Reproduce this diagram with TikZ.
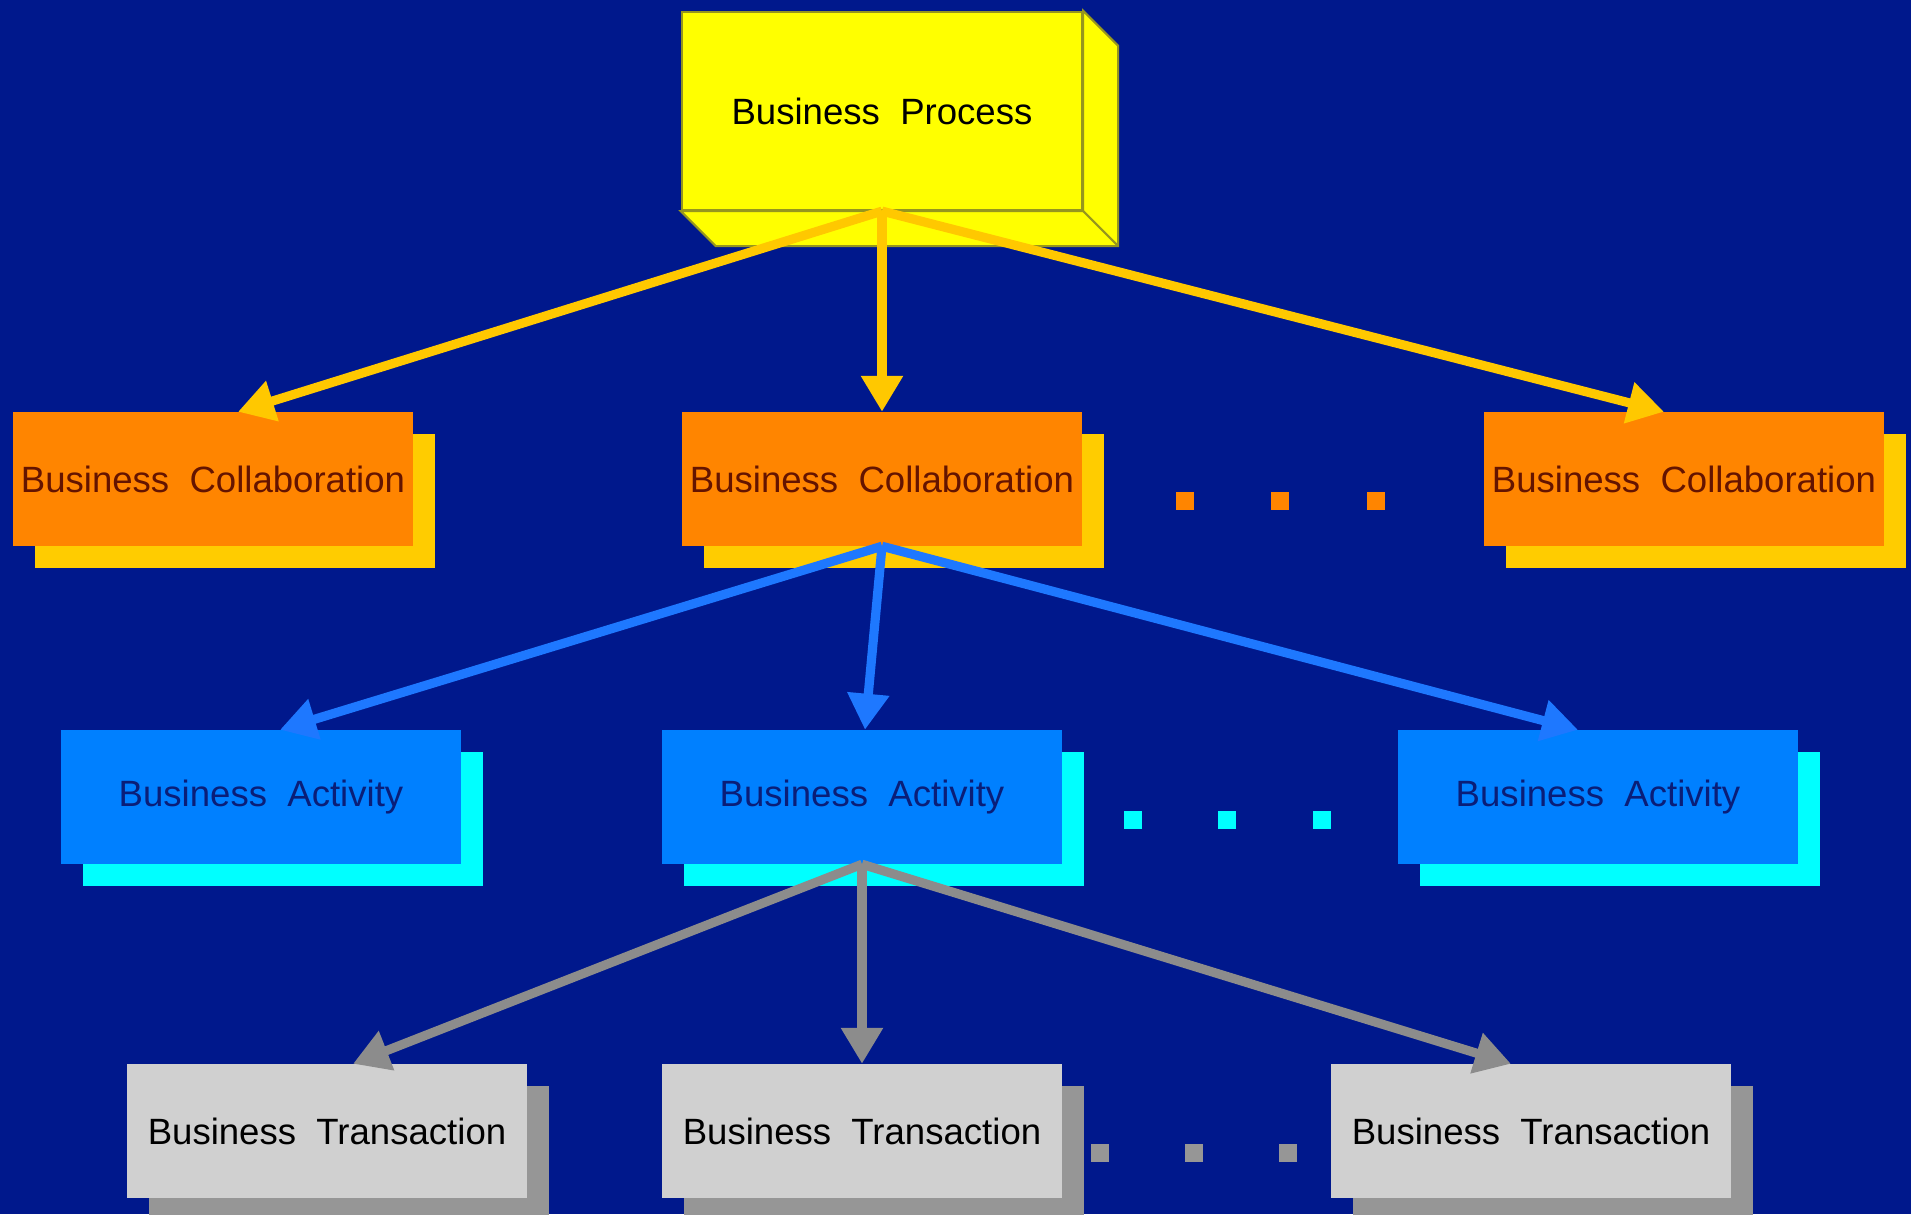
\documentclass[tikz,border=0pt]{standalone}
\usepackage{fontspec}
\setmainfont{Liberation Sans}
\usetikzlibrary{arrows.meta,shadows}

\definecolor{bgblue}{RGB}{0,24,140}
\definecolor{procyellow}{RGB}{255,255,0}
\definecolor{procedge}{RGB}{150,150,30}
\definecolor{collorange}{RGB}{255,133,0}
\definecolor{collshadow}{RGB}{255,204,0}
\definecolor{colltext}{RGB}{100,20,0}
\definecolor{actblue}{RGB}{0,128,255}
\definecolor{actshadow}{RGB}{0,255,255}
\definecolor{acttext}{RGB}{10,30,120}
\definecolor{transgray}{RGB}{208,208,208}
\definecolor{transshadow}{RGB}{150,150,150}
\definecolor{arrowyellow}{RGB}{255,200,0}
\definecolor{arrowblue}{RGB}{30,120,255}
\definecolor{arrowgray}{RGB}{140,140,140}

\tikzset{
  box/.style={minimum width=4cm, minimum height=1.33cm, inner sep=0pt,
    font=\fontsize{10.4}{12}\selectfont},
  collab/.style={box, fill=collorange, text=colltext,
    general shadow={fill=collshadow, shadow xshift=0.22cm, shadow yshift=-0.22cm}},
  activity/.style={box, fill=actblue, text=acttext,
    general shadow={fill=actshadow, shadow xshift=0.22cm, shadow yshift=-0.22cm}},
  transaction/.style={box, fill=transgray, text=black,
    general shadow={fill=transshadow, shadow xshift=0.22cm, shadow yshift=-0.22cm}},
  link/.style={line width=2.6pt, -{Triangle[width=0.4cm,length=0.36cm]}},
  dot/.style={minimum size=0.18cm, inner sep=0pt},
}

\begin{document}
\begin{tikzpicture}[x=0.01cm, y=-0.01cm]

\fill[bgblue] (0,0) rectangle (1911,1214);
\useasboundingbox (0,0) rectangle (1911,1214);

% Business process (box with depth)
\node[box, minimum height=1.98cm, fill=procyellow, draw=procedge, line width=0.6pt] (proc) at (882,111) {Business~~Process};
\filldraw[fill=procyellow, draw=procedge, line width=0.6pt]
  (proc.north east) -- ++(35,35) |- ([shift={(35,35)}]proc.south west)
  -- (proc.south west) -- (proc.south east) -- cycle;
\draw[procedge, line width=0.6pt] (proc.south east) -- ++(35,35);

% Collaborations
\node[collab] (coll1) at (213,479) {Business~~Collaboration};
\node[collab] (coll2) at (882,479) {Business~~Collaboration};
\node[collab] (coll3) at (1684,479) {Business~~Collaboration};

\node[dot, fill=collorange] (cdot1) at (1185,501) {};
\node[dot, fill=collorange] (cdot2) at (1280,501) {};
\node[dot, fill=collorange] (cdot3) at (1376,501) {};

% Activities
\node[activity] (act1) at (261,797) {Business~~Activity};
\node[activity] (act2) at (862,797) {Business~~Activity};
\node[activity] (act3) at (1598,797) {Business~~Activity};

\node[dot, fill=actshadow] (adot1) at (1133,820) {};
\node[dot, fill=actshadow] (adot2) at (1227,820) {};
\node[dot, fill=actshadow] (adot3) at (1322,820) {};

% Transactions
\node[transaction] (tran1) at (327,1131) {Business~~Transaction};
\node[transaction] (tran2) at (862,1131) {Business~~Transaction};
\node[transaction] (tran3) at (1531,1131) {Business~~Transaction};

\node[dot, fill=transshadow] (tdot1) at (1100,1153) {};
\node[dot, fill=transshadow] (tdot2) at (1194,1153) {};
\node[dot, fill=transshadow] (tdot3) at (1288,1153) {};

% -------- arrows -----------
\draw[link, arrowyellow] (proc.south) -- ([xshift=0.25cm]coll1.north);
\draw[link, arrowyellow] (proc.south) -- (coll2.north);
\draw[link, arrowyellow] (proc.south) -- ([xshift=-0.2cm]coll3.north);

\draw[link, arrowblue] (coll2.south) -- ([xshift=0.19cm]act1.north);
\draw[link, arrowblue] (coll2.south) -- ([xshift=0.03cm]act2.north);
\draw[link, arrowblue] (coll2.south) -- ([xshift=-0.2cm]act3.north);

\draw[link, arrowgray] (act2.south) -- ([xshift=0.26cm]tran1.north);
\draw[link, arrowgray] (act2.south) -- (tran2.north);
\draw[link, arrowgray] (act2.south) -- ([xshift=-0.2cm]tran3.north);

\end{tikzpicture}
\end{document}
